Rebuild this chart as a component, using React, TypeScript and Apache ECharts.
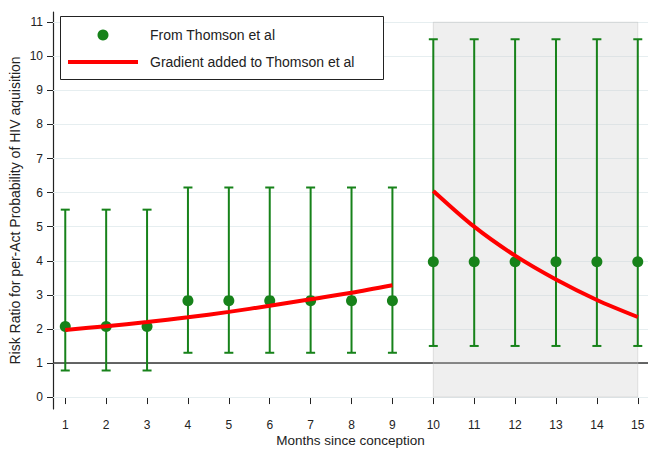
import React, { useEffect, useRef } from "react";
import * as echarts from "echarts";

const months = [1, 2, 3, 4, 5, 6, 7, 8, 9, 10, 11, 12, 13, 14, 15];
const thomsonRR = [2.07, 2.07, 2.07, 2.83, 2.83, 2.83, 2.83, 2.83, 2.83, 3.97, 3.97, 3.97, 3.97, 3.97, 3.97];
const lowerCI = [0.78, 0.78, 0.78, 1.3, 1.3, 1.3, 1.3, 1.3, 1.3, 1.5, 1.5, 1.5, 1.5, 1.5, 1.5];
const upperCI = [5.5, 5.5, 5.5, 6.15, 6.15, 6.15, 6.15, 6.15, 6.15, 10.5, 10.5, 10.5, 10.5, 10.5, 10.5];
const earlyMonths = [1, 2, 3, 4, 5, 6, 7, 8, 9];
const gradientEarly = [1.97, 2.08, 2.2, 2.34, 2.5, 2.68, 2.87, 3.06, 3.28];
const lateMonths = [10, 11, 12, 13, 14, 15];
const gradientLate = [6.05, 5.0, 4.15, 3.45, 2.85, 2.35];
const yTicks = [0, 1, 2, 3, 4, 5, 6, 7, 8, 9, 10, 11];
const xTicks = months;
const referenceValue = 1;
const shadedRange = [10, 15];
const legendNames = ["From Thomson et al", "Gradient added to Thomson et al"];

const GREEN = "#17821a";
const RED = "#ff0000";
const FONT = "Liberation Sans, Arial, sans-serif";

export default function App() {
  const ref = useRef<HTMLDivElement>(null);
  useEffect(() => {
    if (!ref.current) return;
    const chart = echarts.init(ref.current, undefined, { renderer: "svg" });
    const errData = months.map((m, i) => [m, lowerCI[i], upperCI[i]]);
    chart.setOption({
      animation: false,
      backgroundColor: "#ffffff",
      textStyle: { fontFamily: FONT },
      grid: { left: 53, right: 0, top: 12, bottom: 40, containLabel: false, outerBoundsMode: "none" },
      xAxis: {
        type: "value",
        min: 0.7,
        max: 15.25,
        name: "Months since conception",
        nameLocation: "middle",
        nameGap: 24,
        nameMoveOverlap: false,
        nameTextStyle: { fontSize: 13.5, color: "#222", fontFamily: FONT },
        axisLine: { show: true, lineStyle: { color: "#222", width: 1.2 } },
        axisTick: { show: true, customValues: xTicks, length: 7, lineStyle: { color: "#222" } },
        axisLabel: { customValues: xTicks, fontSize: 12, color: "#222", margin: 10, fontFamily: FONT },
        splitLine: { show: false },
      },
      yAxis: {
        type: "value",
        min: -0.35,
        max: 11.3,
        name: "Risk Ratio for per-Act Probability of HIV aquisition",
        nameLocation: "middle",
        nameGap: 31,
        nameMoveOverlap: false,
        nameTextStyle: { fontSize: 14, color: "#222", fontFamily: FONT },
        axisLine: { show: true, lineStyle: { color: "#222", width: 1.2 } },
        axisTick: { show: true, customValues: yTicks, length: 6, lineStyle: { color: "#222" } },
        axisLabel: { customValues: yTicks, fontSize: 12, color: "#222", margin: 10, fontFamily: FONT },
        splitLine: { show: false },
      },
      series: [
        {
          type: "line",
          name: "grid",
          data: [],
          z: 1,
          silent: true,
          markLine: {
            z: 1,
            silent: true,
            symbol: "none",
            label: { show: false },
            data: [
              ...yTicks.map((v) => ({ yAxis: v, lineStyle: { color: "#e6eef0", width: 1, type: "solid" } })),
              { yAxis: referenceValue, lineStyle: { color: "#333333", width: 1.5, type: "solid" } },
            ],
          },
        },
        {
          type: "line",
          name: "shade",
          data: [],
          z: 2,
          silent: true,
          markArea: {
            z: 2,
            silent: true,
            itemStyle: { color: "rgba(205,205,205,0.32)", borderColor: "rgba(190,190,190,0.45)", borderWidth: 1 },
            data: [[{ xAxis: shadedRange[0], yAxis: 0 }, { xAxis: shadedRange[1], yAxis: 11 }]],
          },
        },
        {
          type: "custom",
          name: "ci",
          z: 3,
          data: errData,
          encode: { x: 0, y: [1, 2] },
          renderItem: (params: any, api: any) => {
            const x = api.value(0);
            const lo = api.coord([x, api.value(1)]);
            const hi = api.coord([x, api.value(2)]);
            const w = 4.5;
            const st = { stroke: GREEN, lineWidth: 2 };
            return {
              type: "group",
              children: [
                { type: "line", shape: { x1: lo[0], y1: lo[1], x2: hi[0], y2: hi[1] }, style: st },
                { type: "line", shape: { x1: lo[0] - w, y1: lo[1], x2: lo[0] + w, y2: lo[1] }, style: st },
                { type: "line", shape: { x1: hi[0] - w, y1: hi[1], x2: hi[0] + w, y2: hi[1] }, style: st },
              ],
            };
          },
        },
        {
          type: "scatter",
          name: legendNames[0],
          z: 4,
          symbol: "circle",
          symbolSize: 11,
          itemStyle: { color: GREEN, opacity: 1 },
          data: months.map((m, i) => [m, thomsonRR[i]]),
        },
        {
          type: "line",
          name: legendNames[1],
          z: 5,
          smooth: 0.3,
          showSymbol: false,
          lineStyle: { color: RED, width: 4 },
          data: earlyMonths.map((m, i) => [m, gradientEarly[i]]),
        },
        {
          type: "line",
          name: legendNames[1] + " ",
          z: 5,
          smooth: 0.3,
          showSymbol: false,
          lineStyle: { color: RED, width: 4 },
          data: lateMonths.map((m, i) => [m, gradientLate[i]]),
        },
      ],
      graphic: [
        {
          type: "rect",
          z: 100,
          shape: { x: 60.5, y: 16.5, width: 323, height: 63 },
          style: { fill: "#ffffff", stroke: "#222", lineWidth: 1 },
        },
        {
          type: "circle",
          z: 101,
          shape: { cx: 103, cy: 35, r: 5.5 },
          style: { fill: GREEN },
        },
        {
          type: "line",
          z: 101,
          shape: { x1: 68, y1: 62, x2: 138, y2: 62 },
          style: { stroke: RED, lineWidth: 4 },
        },
        {
          type: "text",
          z: 101,
          x: 150,
          y: 35,
          style: { text: legendNames[0], fontSize: 14, fontFamily: FONT, fill: "#222", verticalAlign: "middle" },
        },
        {
          type: "text",
          z: 101,
          x: 150,
          y: 62,
          style: { text: legendNames[1], fontSize: 14, fontFamily: FONT, fill: "#222", verticalAlign: "middle" },
        },
      ],
    });
    return () => chart.dispose();
  }, []);
  return <div ref={ref} style={{ position: "fixed", left: 0, top: 0, width: 648, height: 449 }} />;
}
